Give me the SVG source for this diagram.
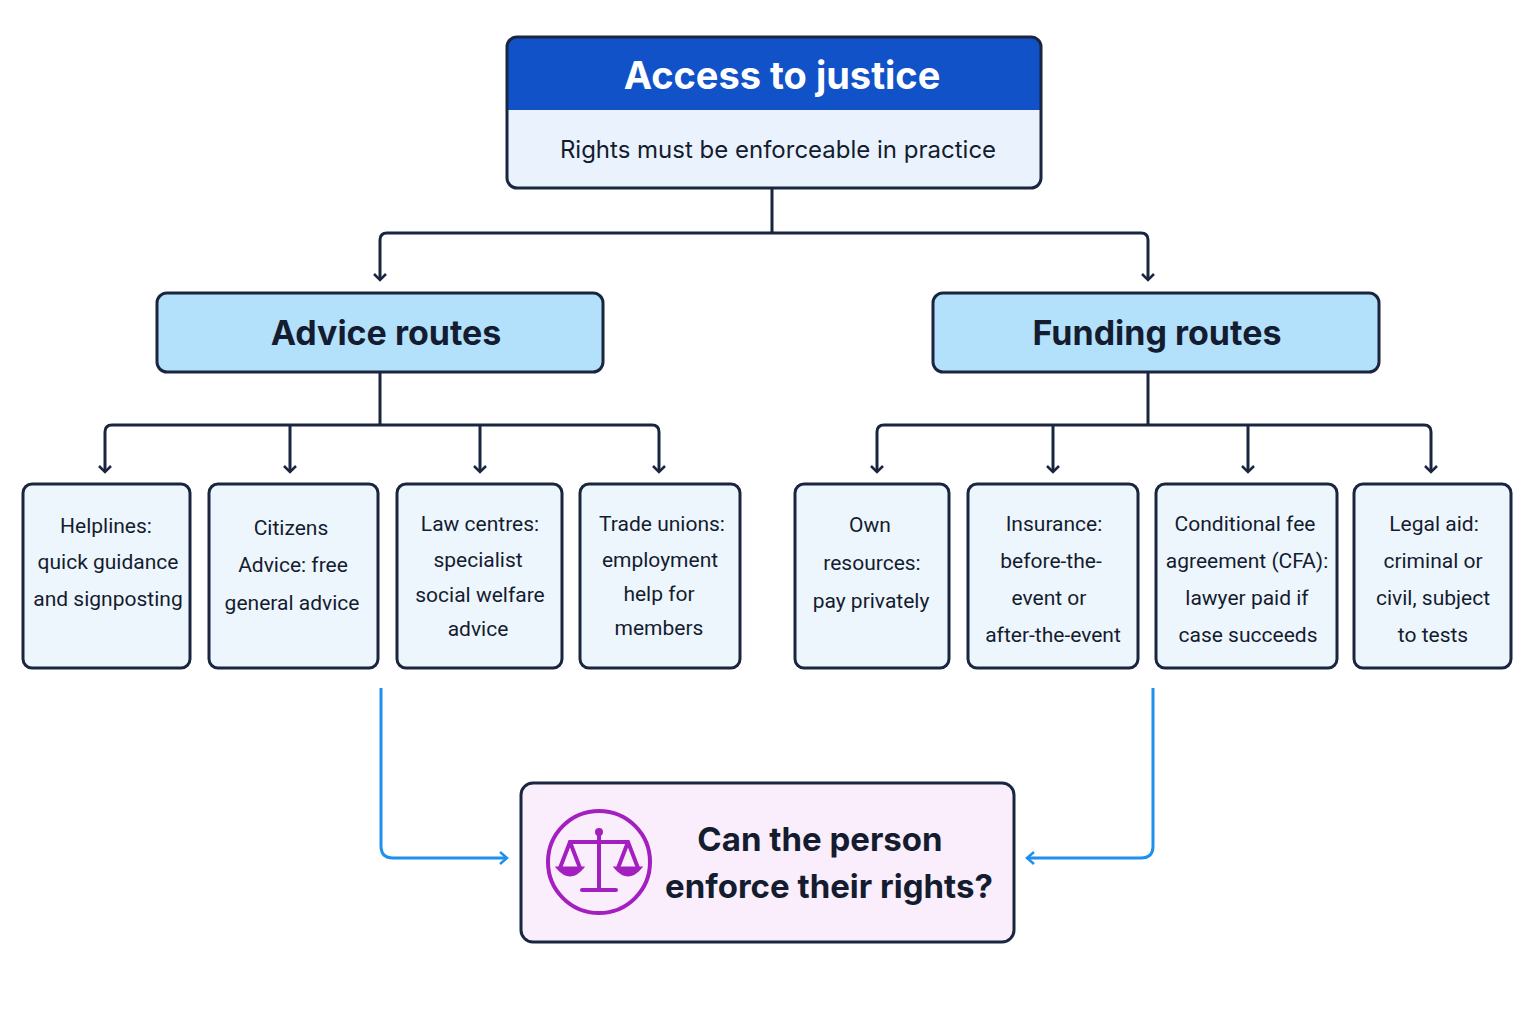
<svg xmlns="http://www.w3.org/2000/svg" width="1536" height="1024" viewBox="0 0 1536 1024">
<style>
.b{stroke:#1a2540;stroke-width:3}
.leaf{fill:#eef6fd;stroke:#1a2540;stroke-width:3}
.lt{font-family:Roboto,"Liberation Sans",sans-serif;font-size:21px;fill:#141c30;text-anchor:middle}
.c{fill:none;stroke:#1a2540;stroke-width:3}
.ar{fill:none;stroke:#1a2540;stroke-width:3;marker-end:url(#a)}
.bl{fill:none;stroke:#1e90ee;stroke-width:3;marker-end:url(#ab)}
.h{font-family:Inter,"Liberation Sans",sans-serif;font-weight:700;text-anchor:middle}
</style>
<defs>
<marker id="a" viewBox="0 0 14 14" refX="12" refY="7" markerWidth="14" markerHeight="14" markerUnits="userSpaceOnUse" orient="auto"><path d="M6 1 L12 7 L6 13" fill="none" stroke="#1a2540" stroke-width="2.5"/></marker>
<marker id="ab" viewBox="0 0 14 14" refX="12" refY="7" markerWidth="14" markerHeight="14" markerUnits="userSpaceOnUse" orient="auto"><path d="M5 1 L12 7 L5 13" fill="none" stroke="#1e90ee" stroke-width="2.5"/></marker>
</defs>
<rect width="1536" height="1024" fill="#fff"/>
<g id="connectors">
<path class="c" d="M772 188 V233 H387 Q380 233 380 240 M772 233 H1141 Q1148 233 1148 240"/>
<path class="ar" d="M380 240 V280"/>
<path class="ar" d="M1148 240 V280"/>
<path class="c" d="M380 372 V425 M112 425 H652 M105 432 Q105 425 112 425 M652 425 Q659 425 659 432"/>
<path class="ar" d="M105 432 V472"/>
<path class="ar" d="M290 425 V472"/>
<path class="ar" d="M480 425 V472"/>
<path class="ar" d="M659 432 V472"/>
<path class="c" d="M1148 372 V425 M884 425 H1424 M877 432 Q877 425 884 425 M1424 425 Q1431 425 1431 432"/>
<path class="ar" d="M877 432 V472"/>
<path class="ar" d="M1053 425 V472"/>
<path class="ar" d="M1248 425 V472"/>
<path class="ar" d="M1431 432 V472"/>
<path class="bl" d="M381 688 V846 Q381 858 393 858 H507"/>
<path class="bl" d="M1153 688 V846 Q1153 858 1141 858 H1027"/>
</g>
<g id="top">
<rect x="507" y="37" width="534" height="151" rx="10" fill="#eaf3fd"/>
<path d="M517 37 H1031 Q1041 37 1041 47 V110 H507 V47 Q507 37 517 37Z" fill="#1152c8"/>
<rect x="507" y="37" width="534" height="151" rx="10" fill="none" class="b"/>
<text x="782" y="89" class="h" font-size="38" fill="#fff">Access to justice</text>
<text x="778" y="158" font-family="Inter,'Liberation Sans',sans-serif" font-size="24" text-anchor="middle" fill="#141c30">Rights must be enforceable in practice</text>
</g>
<g id="advice"><rect x="157" y="293" width="446" height="79" rx="10" fill="#b3e0fb" class="b"/><text x="386" y="345" class="h" font-size="34" fill="#141c30">Advice routes</text></g>
<g id="funding"><rect x="933" y="293" width="446" height="79" rx="10" fill="#b3e0fb" class="b"/><text x="1157" y="345" class="h" font-size="34" fill="#141c30">Funding routes</text></g>
<g id="l1"><rect class="leaf" x="23" y="484" width="167" height="184" rx="9"/><text class="lt" x="106" y="533">Helplines:<tspan x="108" dy="36">quick guidance</tspan><tspan x="108" dy="37">and signposting</tspan></text></g>
<g id="l2"><rect class="leaf" x="209" y="484" width="169" height="184" rx="9"/><text class="lt" x="291" y="535">Citizens<tspan x="293" dy="37">Advice: free</tspan><tspan x="292" dy="38">general advice</tspan></text></g>
<g id="l3"><rect class="leaf" x="397" y="484" width="165" height="184" rx="9"/><text class="lt" x="480" y="531">Law centres:<tspan x="478" dy="36">specialist</tspan><tspan x="480" dy="35">social welfare</tspan><tspan x="478" dy="34">advice</tspan></text></g>
<g id="l4"><rect class="leaf" x="580" y="484" width="160" height="184" rx="9"/><text class="lt" x="662" y="531">Trade unions:<tspan x="660" dy="36">employment</tspan><tspan x="659" dy="34">help for</tspan><tspan x="659" dy="34">members</tspan></text></g>
<g id="r1"><rect class="leaf" x="795" y="484" width="154" height="184" rx="9"/><text class="lt" x="870" y="532">Own<tspan x="872" dy="38">resources:</tspan><tspan x="871" dy="38">pay privately</tspan></text></g>
<g id="r2"><rect class="leaf" x="968" y="484" width="170" height="184" rx="9"/><text class="lt" x="1054" y="531">Insurance:<tspan x="1051" dy="37">before-the-</tspan><tspan x="1049" dy="37">event or</tspan><tspan x="1053" dy="37">after-the-event</tspan></text></g>
<g id="r3"><rect class="leaf" x="1156" y="484" width="181" height="184" rx="9"/><text class="lt" x="1245" y="531">Conditional fee<tspan x="1247" dy="37">agreement (CFA):</tspan><tspan x="1247" dy="37">lawyer paid if</tspan><tspan x="1248" dy="37">case succeeds</tspan></text></g>
<g id="r4"><rect class="leaf" x="1354" y="484" width="157" height="184" rx="9"/><text class="lt" x="1434" y="531">Legal aid:<tspan x="1433" dy="37">criminal or</tspan><tspan x="1433" dy="37">civil, subject</tspan><tspan x="1433" dy="37">to tests</tspan></text></g>
<g id="result">
<rect x="521" y="783" width="493" height="159" rx="12" fill="#fbeefc" class="b"/>
<circle cx="599" cy="862" r="51" fill="none" stroke="#a41fc0" stroke-width="4"/>
<g stroke="#a41fc0" stroke-width="4" fill="none" stroke-linecap="round">
<path d="M599 832 V888 M570 842 H628 M582 890 H616"/>
<path d="M570 842 L560 868 M570 842 L580 868 M628 842 L618 868 M628 842 L638 868"/>
</g>
<path d="M558 868 H582 Q570 882 558 868Z M616 868 H640 Q628 882 616 868Z" fill="#a41fc0" stroke="#a41fc0" stroke-width="3"/>
<circle cx="599" cy="832" r="4" fill="#a41fc0"/>
<text x="820" y="851" class="h" font-size="33" fill="#141c30">Can the person</text>
<text x="829" y="898" class="h" font-size="33" fill="#141c30">enforce their rights?</text>
</g>
</svg>
